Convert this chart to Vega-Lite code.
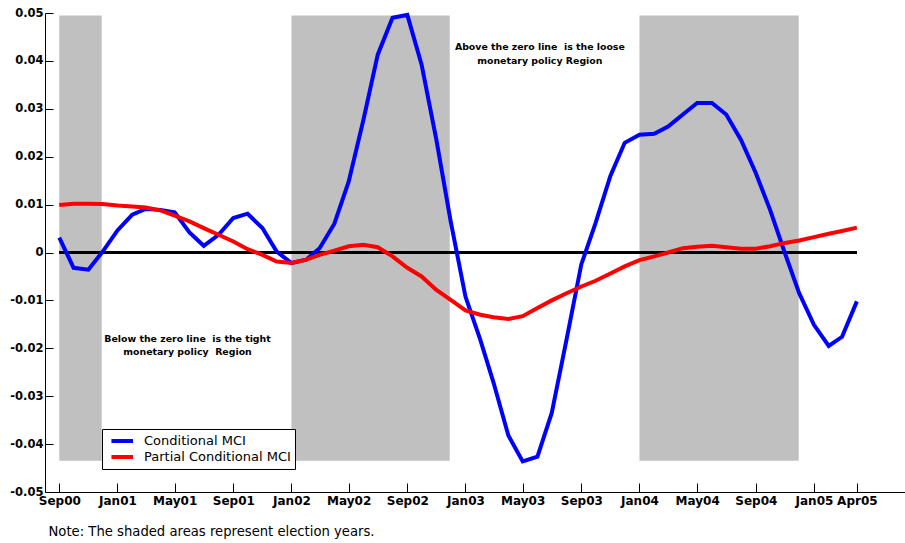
{
  "$schema": "https://vega.github.io/schema/vega-lite/v6.json",
  "width": 860,
  "height": 479,
  "autosize": {"type": "none"},
  "padding": {"left": 45, "top": 13, "right": 0, "bottom": 51},
  "background": "white",
  "config": {
    "view": {"stroke": null},
    "font": "DejaVu Sans"
  },
  "datasets": {
    "series": [
      {"date": "2000-09-01", "Conditional MCI": 0.0031, "Partial Conditional MCI": 0.0099},
      {"date": "2000-10-01", "Conditional MCI": -0.0032, "Partial Conditional MCI": 0.0102},
      {"date": "2000-11-01", "Conditional MCI": -0.0036, "Partial Conditional MCI": 0.0102},
      {"date": "2000-12-01", "Conditional MCI": 0.0002, "Partial Conditional MCI": 0.0101},
      {"date": "2001-01-01", "Conditional MCI": 0.0046, "Partial Conditional MCI": 0.0098},
      {"date": "2001-02-01", "Conditional MCI": 0.0079, "Partial Conditional MCI": 0.0096},
      {"date": "2001-03-01", "Conditional MCI": 0.0091, "Partial Conditional MCI": 0.0094},
      {"date": "2001-04-01", "Conditional MCI": 0.0089, "Partial Conditional MCI": 0.0088},
      {"date": "2001-05-01", "Conditional MCI": 0.0084, "Partial Conditional MCI": 0.0077},
      {"date": "2001-06-01", "Conditional MCI": 0.0042, "Partial Conditional MCI": 0.0065},
      {"date": "2001-07-01", "Conditional MCI": 0.0014, "Partial Conditional MCI": 0.0051},
      {"date": "2001-08-01", "Conditional MCI": 0.0037, "Partial Conditional MCI": 0.0037},
      {"date": "2001-09-01", "Conditional MCI": 0.0072, "Partial Conditional MCI": 0.0023},
      {"date": "2001-10-01", "Conditional MCI": 0.0081, "Partial Conditional MCI": 0.0007},
      {"date": "2001-11-01", "Conditional MCI": 0.0051, "Partial Conditional MCI": -0.0005},
      {"date": "2001-12-01", "Conditional MCI": 0.0002, "Partial Conditional MCI": -0.0019},
      {"date": "2002-01-01", "Conditional MCI": -0.0022, "Partial Conditional MCI": -0.0022},
      {"date": "2002-02-01", "Conditional MCI": -0.0015, "Partial Conditional MCI": -0.0015},
      {"date": "2002-03-01", "Conditional MCI": 0.0009, "Partial Conditional MCI": -0.0005},
      {"date": "2002-04-01", "Conditional MCI": 0.0060, "Partial Conditional MCI": 0.0004},
      {"date": "2002-05-01", "Conditional MCI": 0.0148, "Partial Conditional MCI": 0.0013},
      {"date": "2002-06-01", "Conditional MCI": 0.0277, "Partial Conditional MCI": 0.0016},
      {"date": "2002-07-01", "Conditional MCI": 0.0413, "Partial Conditional MCI": 0.0011},
      {"date": "2002-08-01", "Conditional MCI": 0.0490, "Partial Conditional MCI": -0.0008},
      {"date": "2002-09-01", "Conditional MCI": 0.0496, "Partial Conditional MCI": -0.0032},
      {"date": "2002-10-01", "Conditional MCI": 0.0392, "Partial Conditional MCI": -0.0050},
      {"date": "2002-11-01", "Conditional MCI": 0.0235, "Partial Conditional MCI": -0.0078},
      {"date": "2002-12-01", "Conditional MCI": 0.0065, "Partial Conditional MCI": -0.0099},
      {"date": "2003-01-01", "Conditional MCI": -0.0092, "Partial Conditional MCI": -0.0121},
      {"date": "2003-02-01", "Conditional MCI": -0.0182, "Partial Conditional MCI": -0.0130},
      {"date": "2003-03-01", "Conditional MCI": -0.0272, "Partial Conditional MCI": -0.0135},
      {"date": "2003-04-01", "Conditional MCI": -0.0382, "Partial Conditional MCI": -0.0139},
      {"date": "2003-05-01", "Conditional MCI": -0.0436, "Partial Conditional MCI": -0.0133},
      {"date": "2003-06-01", "Conditional MCI": -0.0426, "Partial Conditional MCI": -0.0116},
      {"date": "2003-07-01", "Conditional MCI": -0.0335, "Partial Conditional MCI": -0.0100},
      {"date": "2003-08-01", "Conditional MCI": -0.0182, "Partial Conditional MCI": -0.0085},
      {"date": "2003-09-01", "Conditional MCI": -0.0025, "Partial Conditional MCI": -0.0071},
      {"date": "2003-10-01", "Conditional MCI": 0.0062, "Partial Conditional MCI": -0.0059},
      {"date": "2003-11-01", "Conditional MCI": 0.0160, "Partial Conditional MCI": -0.0044},
      {"date": "2003-12-01", "Conditional MCI": 0.0229, "Partial Conditional MCI": -0.0029},
      {"date": "2004-01-01", "Conditional MCI": 0.0246, "Partial Conditional MCI": -0.0016},
      {"date": "2004-02-01", "Conditional MCI": 0.0248, "Partial Conditional MCI": -0.0008},
      {"date": "2004-03-01", "Conditional MCI": 0.0263, "Partial Conditional MCI": 0.0000},
      {"date": "2004-04-01", "Conditional MCI": 0.0288, "Partial Conditional MCI": 0.0009},
      {"date": "2004-05-01", "Conditional MCI": 0.0312, "Partial Conditional MCI": 0.0012},
      {"date": "2004-06-01", "Conditional MCI": 0.0312, "Partial Conditional MCI": 0.0014},
      {"date": "2004-07-01", "Conditional MCI": 0.0288, "Partial Conditional MCI": 0.0011},
      {"date": "2004-08-01", "Conditional MCI": 0.0235, "Partial Conditional MCI": 0.0008},
      {"date": "2004-09-01", "Conditional MCI": 0.0166, "Partial Conditional MCI": 0.0008},
      {"date": "2004-10-01", "Conditional MCI": 0.0089, "Partial Conditional MCI": 0.0013},
      {"date": "2004-11-01", "Conditional MCI": -0.0001, "Partial Conditional MCI": 0.0020},
      {"date": "2004-12-01", "Conditional MCI": -0.0085, "Partial Conditional MCI": 0.0025},
      {"date": "2005-01-01", "Conditional MCI": -0.0151, "Partial Conditional MCI": 0.0032},
      {"date": "2005-02-01", "Conditional MCI": -0.0195, "Partial Conditional MCI": 0.0039},
      {"date": "2005-03-01", "Conditional MCI": -0.0176, "Partial Conditional MCI": 0.0045},
      {"date": "2005-04-01", "Conditional MCI": -0.0102, "Partial Conditional MCI": 0.0052}
    ],
    "elections": [
      {"start": "2000-09-01", "end": "2000-11-29"},
      {"start": "2002-01-01", "end": "2002-11-29"},
      {"start": "2004-01-01", "end": "2004-11-30"}
    ]
  },
  "layer": [
    {
      "data": {"name": "elections"},
      "mark": {"type": "rect", "color": "#c0c0c0"},
      "encoding": {
        "x": {
          "field": "start",
          "type": "temporal",
          "scale": {
            "type": "utc",
            "domain": [
              {"year": 2000, "month": 8, "date": 2, "utc": true},
              {"year": 2005, "month": 7, "date": 11, "utc": true}
            ]
          },
          "axis": {
            "zindex": 1,
            "values": [
              {"year": 2000, "month": 9, "date": 1, "utc": true},
              {"year": 2001, "month": 1, "date": 1, "utc": true},
              {"year": 2001, "month": 5, "date": 1, "utc": true},
              {"year": 2001, "month": 9, "date": 1, "utc": true},
              {"year": 2002, "month": 1, "date": 1, "utc": true},
              {"year": 2002, "month": 5, "date": 1, "utc": true},
              {"year": 2002, "month": 9, "date": 1, "utc": true},
              {"year": 2003, "month": 1, "date": 1, "utc": true},
              {"year": 2003, "month": 5, "date": 1, "utc": true},
              {"year": 2003, "month": 9, "date": 1, "utc": true},
              {"year": 2004, "month": 1, "date": 1, "utc": true},
              {"year": 2004, "month": 5, "date": 1, "utc": true},
              {"year": 2004, "month": 9, "date": 1, "utc": true},
              {"year": 2005, "month": 1, "date": 1, "utc": true},
              {"year": 2005, "month": 4, "date": 1, "utc": true}
            ],
            "labelExpr": "utcFormat(datum.value, '%b%y')",
            "grid": false,
            "domainColor": "black",
            "domainWidth": 1,
            "ticks": true,
            "tickColor": "black",
            "tickWidth": 1,
            "tickSize": -9,
            "labelPadding": 12,
            "labelFont": "DejaVu Sans",
            "labelFontSize": 12,
            "labelFontWeight": "bold",
            "labelColor": "black",
            "labelOverlap": false,
            "labelFlush": false,
            "title": "Note: The shaded areas represent election years.",
            "titleFont": "DejaVu Sans",
            "titleFontSize": 13.2,
            "titleFontWeight": "normal",
            "titleColor": "black",
            "titleAnchor": "start",
            "titleAlign": "left",
            "titleBaseline": "alphabetic",
            "titleX": 3,
            "titleY": 43
          }
        },
        "x2": {"field": "end"},
        "y": {
          "datum": 0.0495,
          "type": "quantitative",
          "scale": {"domain": [-0.05, 0.05], "nice": false, "zero": false},
          "axis": {
            "zindex": 1,
            "values": [-0.05, -0.04, -0.03, -0.02, -0.01, 0, 0.01, 0.02, 0.03, 0.04, 0.05],
            "labelExpr": "datum.value == 0 ? '0' : replace(format(datum.value, '.2f'), '\u2212', '-')",
            "grid": false,
            "domainColor": "black",
            "domainWidth": 1,
            "ticks": true,
            "tickColor": "black",
            "tickWidth": 1,
            "tickSize": -8,
            "labelPadding": 10,
            "labelFont": "DejaVu Sans",
            "labelFontSize": 11.5,
            "labelFontWeight": "bold",
            "labelColor": "black",
            "labelOverlap": false,
            "labelFlush": false,
            "title": null
          }
        },
        "y2": {"datum": -0.0435}
      }
    },
    {
      "data": {"name": "series"},
      "mark": {"type": "rule", "color": "black", "strokeWidth": 2},
      "encoding": {
        "x": {"datum": {"year": 2000, "month": 9, "date": 1, "utc": true}, "type": "temporal"},
        "x2": {"datum": {"year": 2005, "month": 4, "date": 1, "utc": true}},
        "y": {"datum": 0, "type": "quantitative"}
      }
    },
    {
      "data": {"name": "series"},
      "transform": [
        {"fold": ["Conditional MCI", "Partial Conditional MCI"], "as": ["series", "value"]}
      ],
      "mark": {"type": "line", "strokeWidth": 4, "strokeJoin": "miter", "strokeCap": "butt"},
      "encoding": {
        "x": {"field": "date", "type": "temporal"},
        "y": {"field": "value", "type": "quantitative"},
        "color": {
          "field": "series",
          "type": "nominal",
          "scale": {"domain": ["Conditional MCI", "Partial Conditional MCI"], "range": ["#0000ff", "#ff0000"]},
          "legend": {
            "title": null,
            "orient": "none",
            "legendX": 57,
            "legendY": 416,
            "symbolType": "M-0.43,0H3.17",
            "symbolSize": 144,
            "symbolStrokeWidth": 4,
            "labelFont": "DejaVu Sans",
            "labelFontSize": 13,
            "labelColor": "black",
            "labelOffset": 22,
            "rowPadding": 0,
            "padding": 4,
            "strokeColor": "black",
            "fillColor": "white",
            "cornerRadius": 0
          }
        },
        "order": {"field": "date", "type": "temporal"}
      }
    },
    {
      "data": {"values": [{}]},
      "mark": {"type": "text", "font": "DejaVu Sans", "fontSize": 9.4, "fontWeight": "bold", "color": "black", "align": "center", "baseline": "middle", "lineHeight": 14},
      "encoding": {
        "x": {"datum": {"year": 2003, "month": 6, "date": 6, "utc": true}, "type": "temporal"},
        "y": {"datum": 0.0429, "type": "quantitative"},
        "text": {"value": ["Above the zero line\u00a0 is the loose", "monetary policy Region"]}
      }
    },
    {
      "data": {"values": [{}]},
      "mark": {"type": "text", "font": "DejaVu Sans", "fontSize": 9.4, "fontWeight": "bold", "color": "black", "align": "center", "baseline": "middle", "lineHeight": 13},
      "encoding": {
        "x": {"datum": {"year": 2001, "month": 5, "date": 28, "utc": true}, "type": "temporal"},
        "y": {"datum": -0.0181, "type": "quantitative"},
        "text": {"value": ["Below the zero line\u00a0 is the tight", "monetary policy\u00a0 Region"]}
      }
    }
  ]
}
